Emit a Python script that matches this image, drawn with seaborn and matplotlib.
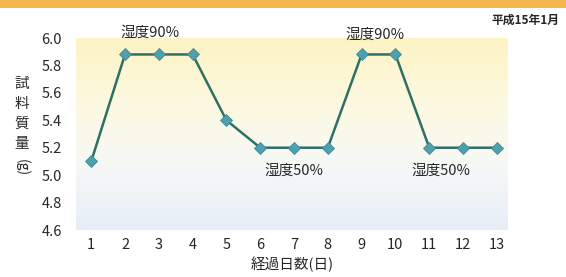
import numpy as np
import pandas as pd
import matplotlib
matplotlib.use("Agg")
import matplotlib.pyplot as plt
import seaborn as sns
from matplotlib.colors import LinearSegmentedColormap
from matplotlib.patches import Rectangle

days = list(range(1, 14))
mass = [5.1, 5.88, 5.88, 5.88, 5.4, 5.2, 5.2, 5.2, 5.88, 5.88, 5.2, 5.2, 5.2]
y_ticks = [4.6, 4.8, 5.0, 5.2, 5.4, 5.6, 5.8, 6.0]
notes = [("湿度90%", 2.75, 5.99), ("湿度90%", 9.4, 5.97), ("湿度50%", 7.0, 5.08), ("湿度50%", 11.35, 5.08)]
ylabel_chars = ["試", "料", "質", "量"]

sns.set_theme(style="white")
plt.rcParams['font.family'] = ['Noto Sans CJK JP', 'DejaVu Sans']

TXT = "#262626"
fig = plt.figure(figsize=(5.66, 2.77), dpi=100)
fig.patch.set_facecolor("white")
ax = fig.add_axes([76/566, 1-230/277, (508-76)/566, (230-38)/277])

xmin, xmax = 0.55, 13.33
ymin, ymax = 4.6, 6.0
cmap = LinearSegmentedColormap.from_list("bg", ["#e6eef8", "#f6f8f6", "#fdf9e0", "#fcf3c4"])
grad = np.linspace(0, 1, 256).reshape(-1, 1)
ax.imshow(grad, extent=[xmin, xmax, ymin, ymax], origin="lower", aspect="auto", cmap=cmap, zorder=0)

df = pd.DataFrame({"day": days, "mass": mass})
sns.lineplot(data=df, x="day", y="mass", ax=ax, color="#2f6f66", linewidth=1.8,
             marker="D", markersize=5.8, markerfacecolor="#4f9fae", markeredgecolor="#3d8a96",
             markeredgewidth=0.6, zorder=3)

for txt, x, y in notes:
    ax.text(x, y, txt, ha="center", va="bottom" if y > 5.5 else "top", fontsize=10.5, color=TXT)

ax.set_xlim(xmin, xmax)
ax.set_ylim(ymin, ymax)
ax.set_xticks(days)
ax.set_xticklabels([str(d) for d in days])
ax.set_yticks(y_ticks)
ax.set_yticklabels([f"{v:.1f}" for v in y_ticks])
ax.tick_params(axis="both", length=0, labelsize=10.5, colors=TXT, pad=6)
ax.tick_params(axis="y", pad=10)
for s in ax.spines.values():
    s.set_visible(False)
ax.set_xlabel("経過日数(日)", fontsize=10.5, color=TXT, labelpad=3)
ax.set_ylabel("")

for i, ch in enumerate(ylabel_chars):
    fig.text(22/566, 1-(84 + i*20)/277, ch, ha="center", va="center",
             fontsize=10.5, color=TXT)
fig.text(22/566, 1-(168)/277, "(g)", ha="center", va="center",
         fontsize=10, color=TXT, rotation=-90)
fig.text(560/566, 1-20/277, "平成15年1月", ha="right", va="center", fontsize=8.5,
         fontweight="bold", color=TXT)
fig.patches.append(Rectangle((0, 1-8/277), 1, 8/277, transform=fig.transFigure,
                             facecolor="#f2b64a", edgecolor="none"))

fig.savefig("out.png", dpi=100)
